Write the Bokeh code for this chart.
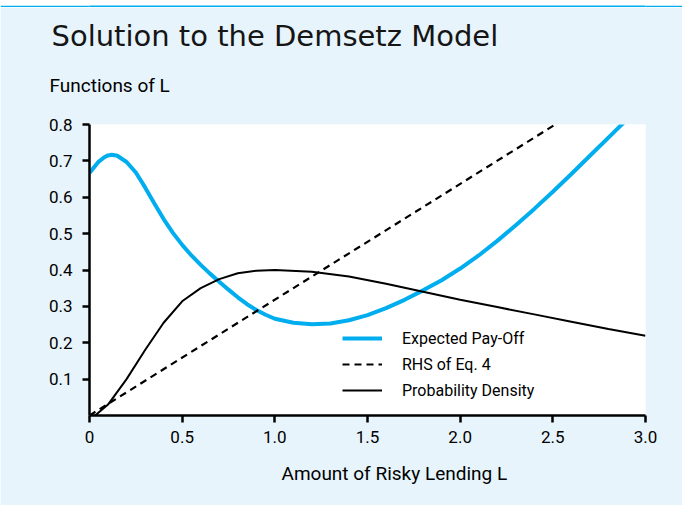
from bokeh.plotting import figure
from bokeh.layouts import column
from bokeh.models import Title, Legend, LegendItem, FixedTicker
from bokeh.embed import file_html
from bokeh.resources import INLINE

# ---------------- data ----------------
title_text = "Solution to the Demsetz Model"
y_title = "Functions of L"
x_title = "Amount of Risky Lending L"

payoff_L = [0.0, 0.05, 0.08, 0.1, 0.12, 0.15, 0.2, 0.25, 0.3, 0.35, 0.4, 0.45, 0.5, 0.55,
            0.6, 0.65, 0.7, 0.75, 0.8, 0.85, 0.9, 0.95, 1.0, 1.1, 1.2, 1.3, 1.4, 1.5,
            1.6, 1.7, 1.8, 1.9, 2.0, 2.1, 2.2, 2.3, 2.4, 2.5, 2.6, 2.7, 2.8, 2.9]
payoff = [0.667, 0.698, 0.710, 0.715, 0.717, 0.714, 0.697, 0.668, 0.627, 0.583, 0.540,
          0.502, 0.469, 0.440, 0.414, 0.390, 0.368, 0.346, 0.325, 0.306, 0.290, 0.277,
          0.266, 0.255, 0.251, 0.253, 0.262, 0.276, 0.295, 0.318, 0.344, 0.372, 0.404,
          0.440, 0.480, 0.523, 0.568, 0.615, 0.664, 0.714, 0.764, 0.814]

density_L = [0.0, 0.03, 0.1, 0.2, 0.3, 0.4, 0.5, 0.6, 0.7, 0.8, 0.9, 1.0, 1.2, 1.4,
             1.6, 1.8, 2.0, 2.2, 2.4, 2.6, 2.8, 3.0]
density = [0.0, 0.0, 0.03, 0.1, 0.18, 0.255, 0.314, 0.35, 0.375, 0.391, 0.398, 0.40,
           0.395, 0.382, 0.362, 0.340, 0.318, 0.298, 0.278, 0.258, 0.238, 0.219]

rhs_L = [0.0, 3.0]
rhs = [0.0, 0.955]

x_ticks = [0, 0.5, 1.0, 1.5, 2.0, 2.5, 3.0]
x_tick_labels = ["0", "0.5", "1.0", "1.5", "2.0", "2.5", "3.0"]
y_ticks = [0.1, 0.2, 0.3, 0.4, 0.5, 0.6, 0.7, 0.8]
y_tick_labels = ["0.1", "0.2", "0.3", "0.4", "0.5", "0.6", "0.7", "0.8"]

legend_labels = ["Expected Pay-Off", "RHS of Eq. 4", "Probability Density"]

# ---------------- style ----------------
BG = "#E7F4FC"
CYAN = "#00AEEF"
NARROW = "Roboto"

band = figure(width=682, height=7, output_backend="svg", toolbar_location=None,
              x_axis_type=None, y_axis_type=None, min_border=0,
              x_range=(0, 1), y_range=(0, 1))
band.background_fill_color = CYAN
band.border_fill_color = CYAN
band.outline_line_color = None
band.grid.visible = False

p = figure(width=682, height=498, x_range=(0, 3), y_range=(0, 0.8),
           output_backend="svg", toolbar_location=None, title=None,
           min_border_left=89, min_border_right=37, min_border_top=117,
           min_border_bottom=90)
p.background_fill_color = "white"
p.border_fill_color = BG
p.outline_line_color = None
p.grid.visible = False

r1 = p.line(payoff_L, payoff, line_color=CYAN, line_width=4)
r2 = p.line(rhs_L, rhs, line_color="black", line_width=2.2, line_dash="7 5")
r3 = p.line(density_L, density, line_color="black", line_width=2)

for ax in (p.xaxis[0], p.yaxis[0]):
    ax.axis_line_width = 2.5
    ax.axis_line_color = "black"
    ax.major_tick_line_width = 2.5
    ax.major_tick_line_color = "black"
    ax.major_tick_in = 0
    ax.major_tick_out = 7
    ax.minor_tick_line_color = None
    ax.major_label_text_font = NARROW
    ax.major_label_text_font_size = "17px"
    ax.major_label_text_color = "black"

p.xaxis.ticker = FixedTicker(ticks=x_ticks)
p.xaxis.major_label_overrides = dict(zip(x_ticks, x_tick_labels))
p.xaxis.major_label_standoff = 8
p.yaxis.ticker = FixedTicker(ticks=y_ticks)
p.yaxis.major_label_overrides = dict(zip(y_ticks, y_tick_labels))
p.yaxis.major_label_standoff = 10

legend = Legend(items=[LegendItem(label=legend_labels[0], renderers=[r1]),
                       LegendItem(label=legend_labels[1], renderers=[r2]),
                       LegendItem(label=legend_labels[2], renderers=[r3])],
                location=(253, 15), border_line_color=None, background_fill_alpha=0,
                padding=0, margin=0, spacing=6, glyph_width=40, glyph_height=20,
                label_height=20, label_standoff=20,
                label_text_font=NARROW, label_text_font_size="16px",
                label_text_color="black")
p.add_layout(legend)

p.add_layout(Title(text=y_title, align="left", offset=-40, text_font=NARROW,
                   text_font_size="19px", text_font_style="normal",
                   text_color="black", standoff=0,
                   padding=dict(left=0, right=0, top=0, bottom=28)), "above")
p.add_layout(Title(text=title_text, align="left", offset=-38, text_font="DejaVu Sans",
                   text_font_size="29px", text_font_style="normal",
                   text_color="#151515", standoff=0,
                   padding=dict(left=0, right=0, top=0, bottom=19)), "above")
p.add_layout(Title(text=x_title, align="left", offset=192, text_font=NARROW,
                   text_font_size="19px", text_font_style="normal",
                   text_color="black", standoff=0,
                   padding=dict(left=0, right=0, top=14, bottom=0)), "below")

layout = column(band, p, spacing=0)
open("out.html", "w").write(file_html(layout, INLINE))
